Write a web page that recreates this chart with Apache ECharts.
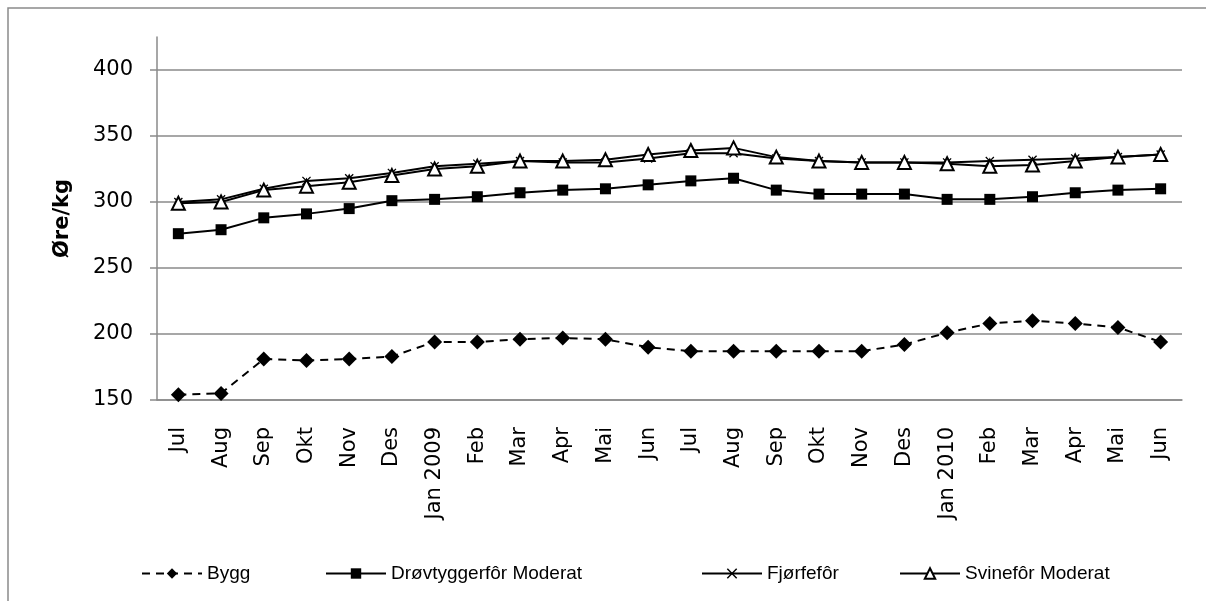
<!DOCTYPE html>
<html>
<head>
<meta charset="utf-8">
<script src="https://cdn.jsdelivr.net/npm/echarts@6/dist/echarts.min.js"></script>
<style>
  html, body { margin: 0; padding: 0; background: #fff; }
  #chart { width: 1206px; height: 601px; }
</style>
</head>
<body>
<div id="chart"></div>
<script>
// kategorier (måneder juli 2008 - juni 2010)
var months = ['Jul', 'Aug', 'Sep', 'Okt', 'Nov', 'Des', 'Jan 2009', 'Feb', 'Mar', 'Apr', 'Mai', 'Jun',
  'Jul', 'Aug', 'Sep', 'Okt', 'Nov', 'Des', 'Jan 2010', 'Feb', 'Mar', 'Apr', 'Mai', 'Jun'];

// priser, øre/kg
var bygg = [154, 155, 181, 180, 181, 183, 194, 194, 196, 197, 196, 190,
  187, 187, 187, 187, 187, 192, 201, 208, 210, 208, 205, 194];
var drovtygger = [276, 279, 288, 291, 295, 301, 302, 304, 307, 309, 310, 313,
  316, 318, 309, 306, 306, 306, 302, 302, 304, 307, 309, 310];
var fjorfe = [300, 302, 310, 316, 318, 322, 327, 329, 331, 330, 330, 333,
  337, 337, 333, 331, 330, 330, 330, 331, 332, 333, 334, 336];
var svine = [299, 300, 309, 312, 315, 320, 325, 327, 331, 331, 332, 336,
  339, 341, 334, 331, 330, 330, 329, 327, 328, 331, 334, 336];

var yTicks = [150, 200, 250, 300, 350, 400];

var gray = '#8a8a8a';
var crossPath = 'path://M0,1L1,0L5,4L9,0L10,1L6,5L10,9L9,10L5,6L1,10L0,9L4,5Z';

var chart = echarts.init(document.getElementById('chart'));

function legendAt(name, x) {
  return {
    data: [name],
    left: x,
    top: 559,
    itemWidth: 60,
    itemHeight: 13,
    selectedMode: false,
    textStyle: { fontFamily: 'Liberation Sans Narrow, Liberation Sans', fontSize: 19, color: '#000' }
  };
}

var option = {
  animation: false,
  backgroundColor: '#fff',
  graphic: [{
    type: 'rect',
    shape: { x: 8, y: 8, width: 1260, height: 660 },
    style: { fill: 'none', stroke: gray, lineWidth: 1.5 },
    silent: true
  }],
  legend: [
    legendAt('Bygg', 136),
    legendAt('Drøvtyggerfôr Moderat', 320),
    legendAt('Fjørfefôr', 696),
    legendAt('Svinefôr Moderat', 894)
  ],
  grid: { left: 157, right: 24, top: 37, bottom: 201 },
  xAxis: {
    type: 'category',
    data: months,
    boundaryGap: true,
    axisLine: { lineStyle: { color: gray, width: 1.5 } },
    axisTick: { length: 7, lineStyle: { color: gray, width: 1.5 } },
    axisLabel: {
      rotate: 90,
      interval: 0,
      margin: 27,
      color: '#000',
      fontFamily: 'DejaVu Sans',
      fontSize: 21
    }
  },
  yAxis: {
    type: 'value',
    min: 150,
    max: 425,
    interval: 50,
    name: 'Øre/kg',
    nameLocation: 'middle',
    nameRotate: 90,
    nameGap: 84,
    nameTextStyle: { fontFamily: 'DejaVu Sans', fontWeight: 'bold', fontSize: 21, color: '#000' },
    axisLine: { show: true, lineStyle: { color: gray, width: 1.5 } },
    axisTick: { show: true, length: 7, customValues: yTicks, lineStyle: { color: gray, width: 1.5 } },
    axisLabel: {
      customValues: yTicks,
      margin: 24,
      color: '#000',
      fontFamily: 'DejaVu Sans',
      fontSize: 21
    },
    splitLine: { show: true, lineStyle: { color: gray, width: 1.5 } }
  },
  series: [
    {
      name: 'Bygg',
      type: 'line',
      data: bygg,
      symbol: 'diamond',
      symbolSize: 15,
      itemStyle: { color: '#000' },
      lineStyle: { color: '#000', width: 2, type: [8, 6] }
    },
    {
      name: 'Drøvtyggerfôr Moderat',
      type: 'line',
      data: drovtygger,
      symbol: 'rect',
      symbolSize: 11,
      itemStyle: { color: '#000' },
      lineStyle: { color: '#000', width: 2 }
    },
    {
      name: 'Fjørfefôr',
      type: 'line',
      data: fjorfe,
      symbol: crossPath,
      symbolSize: 9,
      itemStyle: { color: '#000' },
      lineStyle: { color: '#000', width: 2 }
    },
    {
      name: 'Svinefôr Moderat',
      type: 'line',
      data: svine,
      symbol: 'triangle',
      symbolSize: 13,
      itemStyle: { color: '#fff', borderColor: '#000', borderWidth: 2 },
      lineStyle: { color: '#000', width: 2 }
    }
  ]
};

chart.setOption(option);
</script>
</body>
</html>
